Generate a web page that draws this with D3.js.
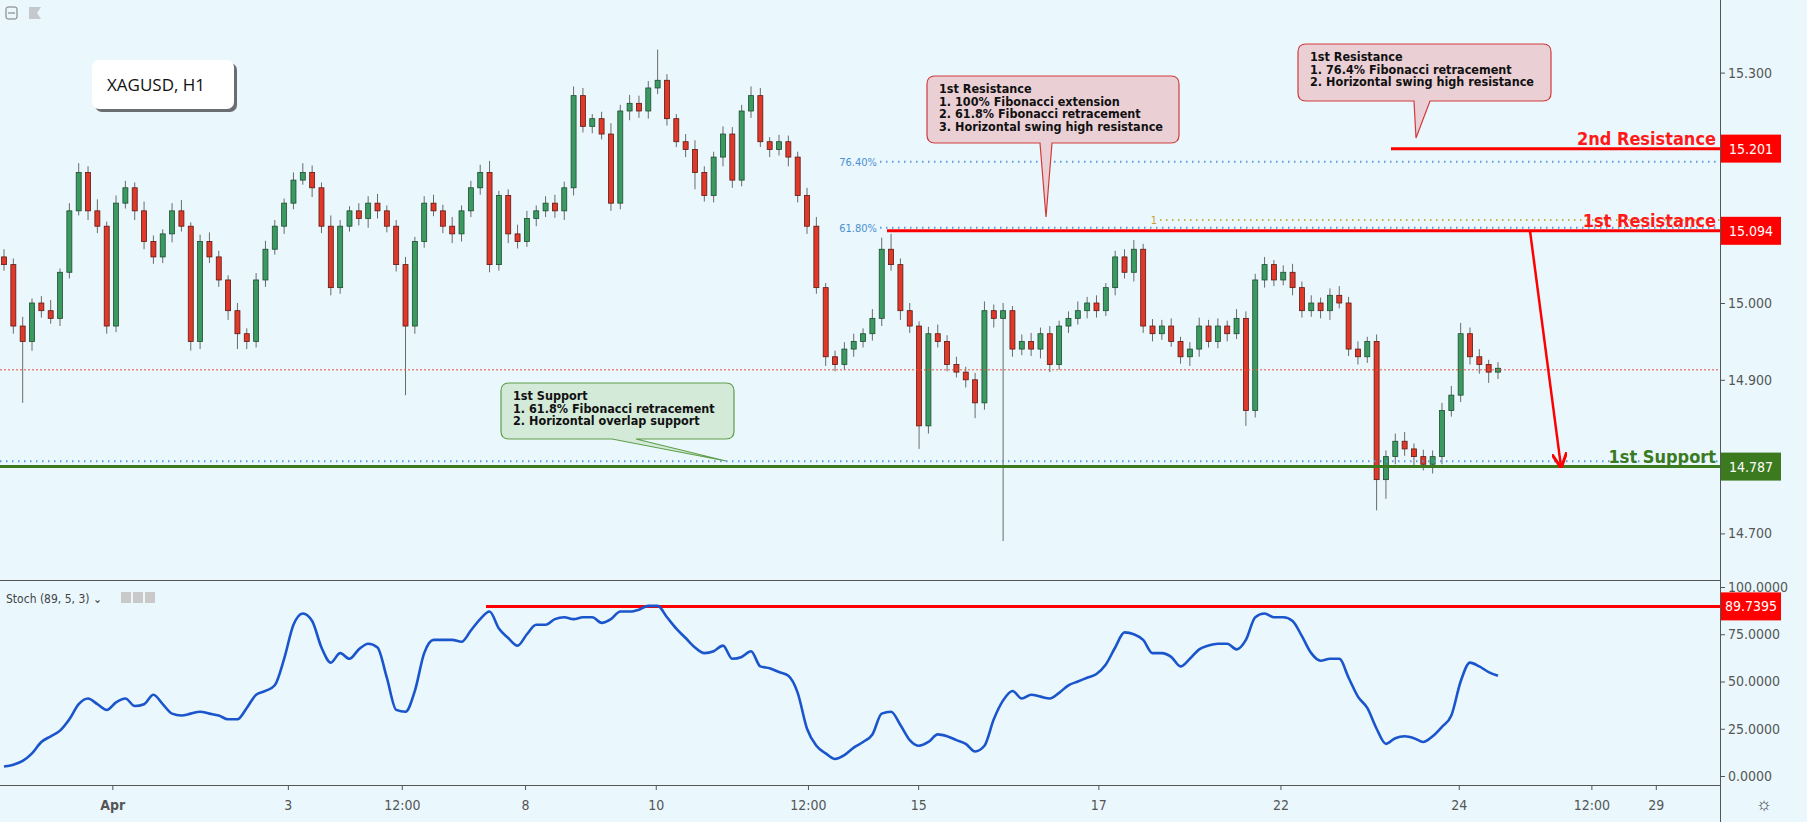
<!DOCTYPE html>
<html><head><meta charset="utf-8">
<script src="https://cdn.jsdelivr.net/npm/d3@7"></script>
<style>body{margin:0;background:#eaf8fe;overflow:hidden}svg{display:block}</style>
</head><body><svg id="c" width="1807" height="822"></svg>
<script>
const closes=[15.05,14.97,14.95,15.00,14.99,14.98,15.04,15.12,15.17,15.12,15.10,14.97,15.13,15.15,15.12,15.08,15.06,15.09,15.12,15.10,
14.95,15.08,15.06,15.03,14.99,14.96,14.95,15.03,15.07,15.10,15.13,15.16,15.17,15.15,15.10,15.02,15.10,15.12,15.11,15.13,
15.12,15.10,15.05,14.97,15.08,15.13,15.12,15.10,15.09,15.12,15.15,15.17,15.05,15.14,15.09,15.08,15.11,15.12,15.13,15.12,
15.15,15.27,15.23,15.24,15.22,15.13,15.25,15.26,15.25,15.28,15.29,15.24,15.21,15.20,15.17,15.14,15.19,15.22,15.16,15.25,
15.27,15.21,15.20,15.21,15.19,15.14,15.10,15.02,14.93,14.92,14.94,14.95,14.96,14.98,15.07,15.05,14.99,14.97,14.84,14.96,
14.95,14.92,14.91,14.90,14.87,14.99,14.98,14.99,14.94,14.95,14.94,14.96,14.92,14.97,14.98,14.99,15.00,14.99,15.02,15.06,
15.04,15.07,14.97,14.96,14.97,14.95,14.93,14.94,14.97,14.95,14.97,14.96,14.98,14.86,15.03,15.05,15.03,15.04,15.02,14.99,
15.00,14.99,15.01,15.00,14.94,14.93,14.95,14.77,14.80,14.82,14.81,14.80,14.79,14.80,14.86,14.88,14.96,14.93,14.92,14.91,14.915];
const wickHi=[10,8,12,6,9,14,5,10,12,8,15,6,10,9,7,12,8,6,10,14,5,9,12,8,6,10,7,9,11,8,6,10,12,9,7,14,8,6,10,9,
12,7,8,10,6,9,11,8,12,7,9,10,15,6,8,12,10,7,9,11,8,12,10,6,9,14,8,11,10,9,40,8,6,10,12,8,7,10,9,8,
12,10,6,9,8,7,10,12,6,8,9,10,7,12,15,20,8,10,6,9,12,8,10,7,9,12,8,10,6,9,11,8,10,7,9,12,8,10,6,8,
10,12,7,9,8,10,6,9,11,8,10,7,12,9,8,10,6,9,11,8,10,7,9,12,8,10,6,9,8,10,12,7,9,8,10,12,14,8,10,6,8];
const wickLo=[8,10,80,12,9,7,10,8,6,12,9,10,8,7,12,10,9,8,11,7,12,10,8,9,12,20,10,8,9,7,10,8,6,12,9,10,8,7,9,12,
10,8,9,90,10,8,7,9,12,10,8,9,10,8,12,9,7,10,8,9,12,10,8,9,7,10,8,12,9,10,8,9,7,10,22,8,9,12,10,8,
9,7,10,8,12,9,10,8,12,9,7,10,8,9,10,8,12,9,30,10,8,9,7,10,20,9,12,290,10,8,9,12,10,7,9,8,10,9,7,10,
8,12,9,10,8,7,9,12,10,8,9,10,7,20,9,10,8,7,10,9,8,10,12,7,9,10,8,40,25,10,9,14,8,12,10,8,9,10,12,14,9];
const stoch=[5,6,8,12,18,21,24,30,38,41,38,35,39,41,37,38,43,38,33,32,33,34,33,32,30,30,36,43,45,48,62,80,86,82,68,60,65,62,67,70,
68,52,35,34,45,65,72,72,72,71,77,83,87,78,73,69,75,80,80,83,84,83,84,84,81,83,87,87,88,90,90,84,78,73,68,65,66,69,62,63,
66,58,57,55,53,44,25,16,12,9,11,15,18,22,33,34,27,19,16,18,22,21,19,17,13,16,30,40,45,41,43,42,41,44,48,50,52,54,59,68,
76,75,72,65,65,63,58,62,67,69,70,70,67,72,84,86,84,84,82,74,65,61,62,62,52,42,36,25,17,20,21,20,18,21,26,32,50,60,58,55,53];
const dateTicks=[11.6,30.4,42.6,55.8,69.8,86.1,97.9,117.2,136.7,155.8,170,176.9];
const dateLabels=["Apr","3","12:00","8","10","12:00","15","17","22","24","12:00","29"];
const priceTicks=[15.3,15.0,14.9,14.7];
const stochTicks=[100,75,50,25,0];
const levels={r2:15.201,r1:15.094,s1:14.787,fib764:15.184,fib618:15.098,fibOne:15.108,blueSup:14.794,last:14.913,stochHi:89.7395};

const svg=d3.select("#c");
const AX=1720;
const x=d3.scaleLinear().domain([0,160]).range([4,1498]);
const y=d3.scaleLinear().domain([14.7,15.3]).range([533.4,72.6]);
const ys=d3.scaleLinear().domain([0,100]).range([776,587]);
svg.append("rect").attr("width",1807).attr("height",822).attr("fill","#eaf8fe");
const F="'DejaVu Sans Condensed','DejaVu Sans',sans-serif";

const data=closes.map((c,i)=>{const o=i?closes[i-1]:15.06;return{i,o,c,h:Math.max(o,c)+wickHi[i]/1000,l:Math.min(o,c)-wickLo[i]/1000};});
const g=svg.append("g");
g.selectAll("line.w").data(data).join("line").attr("x1",d=>x(d.i)).attr("x2",d=>x(d.i)).attr("y1",d=>y(d.h)).attr("y2",d=>y(d.l)).attr("stroke","#6a6a6a").attr("stroke-width",1);
g.selectAll("rect.b").data(data).join("rect").attr("x",d=>x(d.i)-2.5).attr("width",5)
 .attr("y",d=>y(Math.max(d.o,d.c))).attr("height",d=>Math.max(1.5,Math.abs(y(d.o)-y(d.c))))
 .attr("fill",d=>d.c>=d.o?"#3a9a62":"#e0392a").attr("stroke",d=>d.c>=d.o?"#1f4d2e":"#5c1a12").attr("stroke-width",0.8);

function hline(v,x1,x2,col,w,dash){svg.append("line").attr("x1",x1).attr("x2",x2).attr("y1",y(v)).attr("y2",y(v)).attr("stroke",col).attr("stroke-width",w).attr("stroke-dasharray",dash||null);}
hline(levels.last,0,AX,"#e8503a",1,"2,2");
hline(levels.fib764,880,AX,"#5b9bd5",2,"1.5,4.5");
hline(levels.fib618,880,AX,"#5b9bd5",2,"1.5,4.5");
hline(levels.fibOne,1160,AX,"#c8b050",2,"1.5,4.5");
hline(levels.blueSup,0,AX,"#5b9bd5",2,"1.5,4.5");
hline(levels.r2,1391,AX,"#ff0000",3);
hline(levels.r1,887,AX,"#ff0000",3);
hline(levels.s1,0,AX,"#3b7a1e",3);
svg.append("text").attr("x",877).attr("y",y(levels.fib764)+4).attr("text-anchor","end").attr("font-family",F).attr("font-size",11).attr("fill","#4a8fd0").text("76.40%");
svg.append("text").attr("x",877).attr("y",y(levels.fib618)+4).attr("text-anchor","end").attr("font-family",F).attr("font-size",11).attr("fill","#4a8fd0").text("61.80%");
svg.append("text").attr("x",1157).attr("y",y(levels.fibOne)+4).attr("text-anchor","end").attr("font-family",F).attr("font-size",11).attr("fill","#c8a030").text("1");
function lvlLabel(v,t,col){svg.append("text").attr("x",1716).attr("y",y(v)-4).attr("text-anchor","end").attr("font-family",F).attr("font-weight","bold").attr("font-size",18).attr("fill",col).text(t);}
lvlLabel(levels.r2,"2nd Resistance","#ff1a1a");lvlLabel(levels.r1,"1st Resistance","#ff1a1a");lvlLabel(levels.s1,"1st Support","#3b7a1e");

svg.append("defs").append("marker").attr("id","ah").attr("viewBox","0 0 10 10").attr("refX",9).attr("refY",5).attr("markerWidth",6).attr("markerHeight",6).attr("orient","auto")
 .append("path").attr("d","M0,0 L10,5 L0,10").attr("fill","none").attr("stroke","#ff0000").attr("stroke-width",2);
svg.append("line").attr("x1",1530).attr("y1",y(levels.r1)).attr("x2",1561).attr("y2",y(levels.s1)).attr("stroke","#ff0000").attr("stroke-width",2.5).attr("marker-end","url(#ah)");

function callout(x0,y0,w,h,tail,fill,stroke,lines){
 const r=8,[b1,b2,tx,ty]=tail;
 const p=`M${x0+r},${y0}H${x0+w-r}Q${x0+w},${y0} ${x0+w},${y0+r}V${y0+h-r}Q${x0+w},${y0+h} ${x0+w-r},${y0+h}H${b2}L${tx},${ty}L${b1},${y0+h}H${x0+r}Q${x0},${y0+h} ${x0},${y0+h-r}V${y0+r}Q${x0},${y0} ${x0+r},${y0}Z`;
 svg.append("path").attr("d",p).attr("fill",fill).attr("stroke",stroke).attr("stroke-width",1.2);
 lines.forEach((t,k)=>svg.append("text").attr("x",x0+12).attr("y",y0+17+k*12.5).attr("font-family",F).attr("font-weight","bold").attr("font-size",12.5).attr("fill","#111").text(t));
}
callout(927,76,252,67,[1040,1052,1046,217],"#ead0d5","#d23a3a",["1st Resistance","1. 100% Fibonacci extension","2. 61.8% Fibonacci retracement","3. Horizontal swing high resistance"]);
callout(1298,44,253,57,[1414,1430,1416,138],"#ead0d5","#d23a3a",["1st Resistance","1. 76.4% Fibonacci retracement","2. Horizontal swing high resistance"]);
callout(501,383,233,56,[612,636,726,461],"#d4ead9","#5e9e48",["1st Support","1. 61.8% Fibonacci retracement","2. Horizontal overlap support"]);

svg.append("rect").attr("x",95).attr("y",63).attr("width",142).attr("height",49).attr("rx",7).attr("fill","#333").attr("opacity",0.7);
svg.append("rect").attr("x",92).attr("y",60).attr("width",142).attr("height",49).attr("rx",7).attr("fill","#fff");
svg.append("text").attr("x",107).attr("y",91).attr("font-family","'Open Sans',sans-serif").attr("font-size",17).attr("fill","#111").text("XAGUSD, H1");
svg.append("rect").attr("x",6).attr("y",7).attr("width",11).attr("height",12).attr("rx",2).attr("fill","none").attr("stroke","#777");
svg.append("line").attr("x1",8).attr("x2",15).attr("y1",13).attr("y2",13).attr("stroke","#777");
svg.append("path").attr("d","M29,7H41L37,13L41,19H29Z").attr("fill","#c5c8cc");

svg.append("line").attr("x1",0).attr("x2",AX).attr("y1",580.5).attr("y2",580.5).attr("stroke","#555");
svg.append("line").attr("x1",486).attr("x2",AX).attr("y1",ys(levels.stochHi)).attr("y2",ys(levels.stochHi)).attr("stroke","#ff0000").attr("stroke-width",3);
svg.append("path").datum(stoch).attr("d",d3.line().x((d,i)=>x(i)).y(d=>ys(d)).curve(d3.curveMonotoneX)).attr("fill","none").attr("stroke","#1a55cc").attr("stroke-width",2.6);
svg.append("text").attr("x",6).attr("y",603).attr("font-family",F).attr("font-size",12).attr("fill","#444").text("Stoch (89, 5, 3) ⌄");
[0,1,2].forEach(k=>svg.append("rect").attr("x",121+k*12).attr("y",592).attr("width",10).attr("height",11).attr("fill","#c9c9c9"));

svg.append("line").attr("x1",AX+.5).attr("x2",AX+.5).attr("y1",0).attr("y2",822).attr("stroke","#555");
svg.append("line").attr("x1",0).attr("x2",AX).attr("y1",785.5).attr("y2",785.5).attr("stroke","#555");
const pa=svg.append("g").attr("transform",`translate(${AX},0)`).call(d3.axisRight(y).tickValues(priceTicks).tickFormat(d3.format(".3f")).tickSize(5));
const sa=svg.append("g").attr("transform",`translate(${AX},0)`).call(d3.axisRight(ys).tickValues(stochTicks).tickFormat(d3.format(".4f")).tickSize(5));
const ta=svg.append("g").attr("transform","translate(0,785)").call(d3.axisBottom(x).tickValues(dateTicks).tickFormat((d,i)=>dateLabels[i]).tickSize(5));
[pa,sa,ta].forEach(a=>{a.select(".domain").remove();a.selectAll("line").attr("stroke","#555");a.selectAll("text").attr("font-family",F).attr("font-size",14).attr("fill","#555");});
ta.selectAll("text").attr("dy","1.2em").attr("font-weight",(d,i)=>i===0?"bold":null);
function tag(yy,t,col){svg.append("rect").attr("x",AX+1).attr("y",yy-14).attr("width",60).attr("height",28).attr("fill",col);
 svg.append("text").attr("x",AX+31).attr("y",yy+5).attr("text-anchor","middle").attr("font-family",F).attr("font-size",14).attr("fill","#fff").text(t);}
tag(y(levels.r2),"15.201","#ff0000");tag(y(levels.r1),"15.094","#ff0000");tag(y(levels.s1),"14.787","#3b7a1e");tag(ys(levels.stochHi),"89.7395","#ff0000");
svg.append("text").attr("x",1764).attr("y",810).attr("text-anchor","middle").attr("font-size",18).attr("fill","#333").text("☼");
</script></body></html>
